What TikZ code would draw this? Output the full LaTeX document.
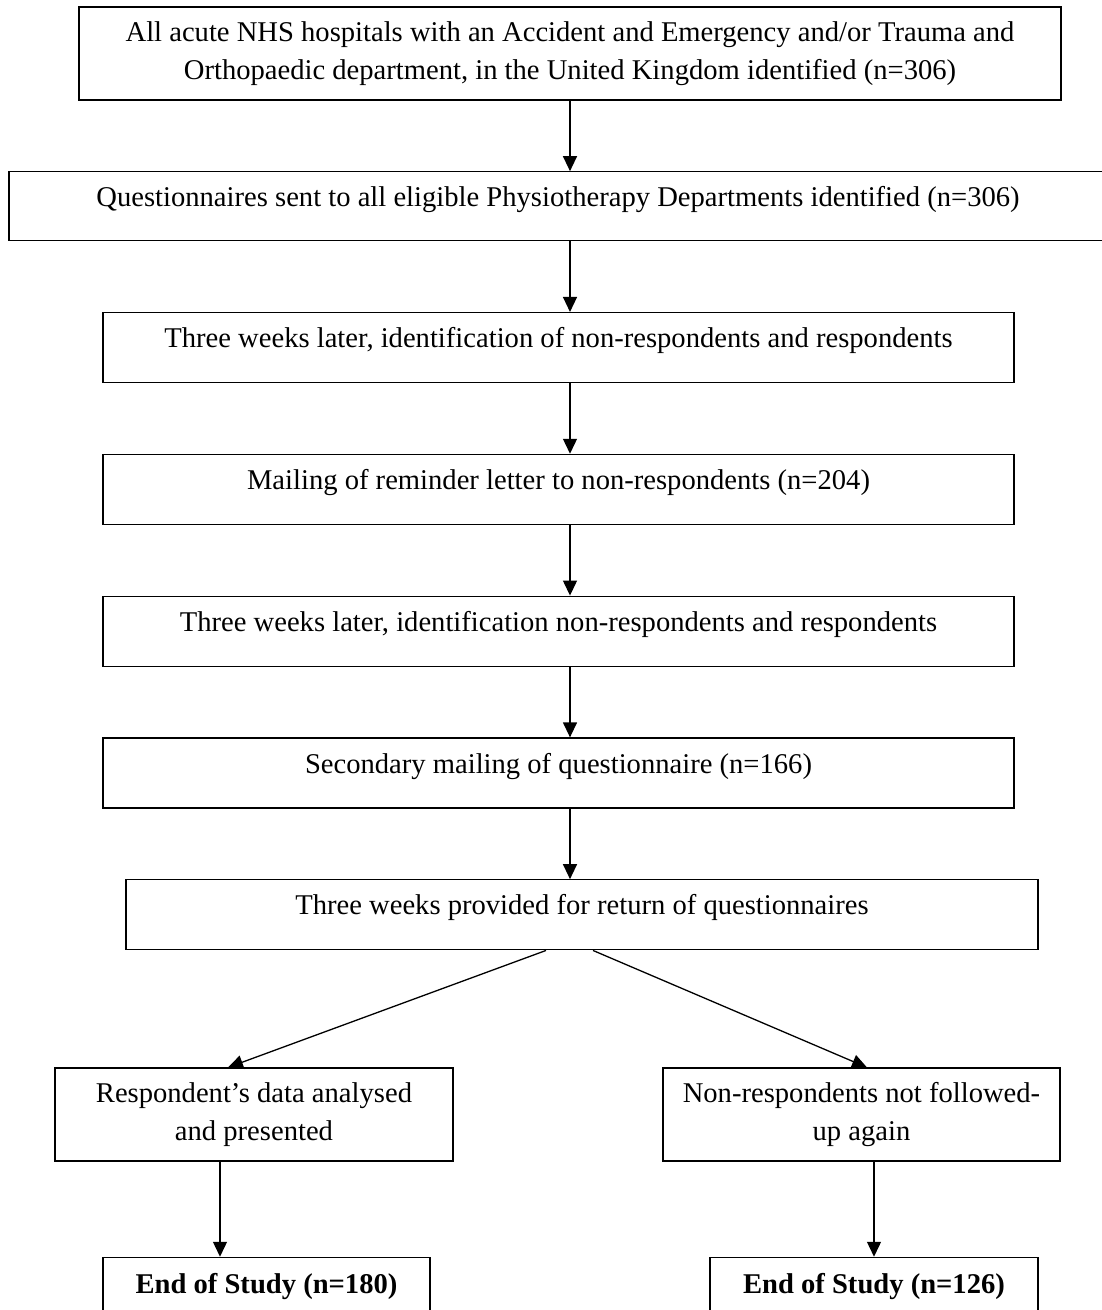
\documentclass[tikz,border=0pt]{standalone}
\usepackage{fontspec}
\setmainfont{Liberation Serif}
\usetikzlibrary{positioning,arrows.meta}

\begin{document}
\begin{tikzpicture}[x=1pt,y=1pt,node distance=70.5pt,
  stage/.style={draw,line width=1.3pt,align=center,inner xsep=0pt,inner ysep=0pt,
    font=\fontsize{28.6}{38.5}\selectfont},
  single/.style={stage,text height=35pt,text depth=35pt},
  flow/.style={line width=1.3pt,-{Triangle[width=14pt,length=15pt]}}]
\useasboundingbox (0,0) rectangle (1102,-1310);
\node[stage,minimum width=982pt,minimum height=93pt] (hosp) at (570,-53.5) {All acute NHS hospitals with an Accident and Emergency and/or Trauma and\\Orthopaedic department, in the United Kingdom identified (n=306)};
\node[stage,minimum width=1098pt,text height=34.5pt,text depth=34.5pt,below=of hosp,xshift=-12pt] (sent) {Questionnaires sent to all eligible Physiotherapy Departments identified (n=306)};
\node[single,minimum width=911pt,below=of sent,xshift=0.5pt] (wait1) {Three weeks later, identification of non-respondents and respondents};
\node[single,minimum width=911pt,below=of wait1] (remind) {Mailing of reminder letter to non-respondents (n=204)};
\node[single,minimum width=911pt,below=of remind] (wait2) {Three weeks later, identification non-respondents and respondents};
\node[single,minimum width=911pt,below=of wait2] (second) {Secondary mailing of questionnaire (n=166)};
\node[single,minimum width=912pt,below=of second,xshift=23.5pt] (wait3) {Three weeks provided for return of questionnaires};
% two branches
\node[stage,minimum width=398pt,minimum height=93pt,below=117pt of wait3,xshift=-328pt] (resp) {Respondent’s data analysed\\and presented};
\node[stage,minimum width=397pt,minimum height=93pt,below=117pt of wait3,xshift=279.5pt] (nonresp) {Non-respondents not followed-\\up again};
\node[stage,font=\fontsize{28.6}{38.5}\selectfont\bfseries,minimum width=327pt,text height=36pt,text depth=77pt,below=95pt of resp,xshift=12.5pt] (endresp) {End of Study (n=180)};
\node[stage,font=\fontsize{28.6}{38.5}\selectfont\bfseries,minimum width=328pt,text height=36pt,text depth=77pt,below=95pt of nonresp,xshift=12.5pt] (endnon) {End of Study (n=126)};
\draw[flow] (hosp.south) -- (hosp.south |- sent.north);
\draw[flow] (hosp.south |- sent.south) -- (hosp.south |- wait1.north);
\draw[flow] (hosp.south |- wait1.south) -- (hosp.south |- remind.north);
\draw[flow] (hosp.south |- remind.south) -- (hosp.south |- wait2.north);
\draw[flow] (hosp.south |- wait2.south) -- (hosp.south |- second.north);
\draw[flow] (hosp.south |- second.south) -- (hosp.south |- wait3.north);
\draw[flow] ([xshift=-36pt]wait3.south) -- ([xshift=-26pt]resp.north);
\draw[flow] ([xshift=11pt]wait3.south) -- ([xshift=5.5pt]nonresp.north);
\draw[flow] ([xshift=-34pt]resp.south) -- ([xshift=-34pt]resp.south |- endresp.north);
\draw[flow] ([xshift=12.5pt]nonresp.south) -- (endnon.north);
\end{tikzpicture}
\end{document}
